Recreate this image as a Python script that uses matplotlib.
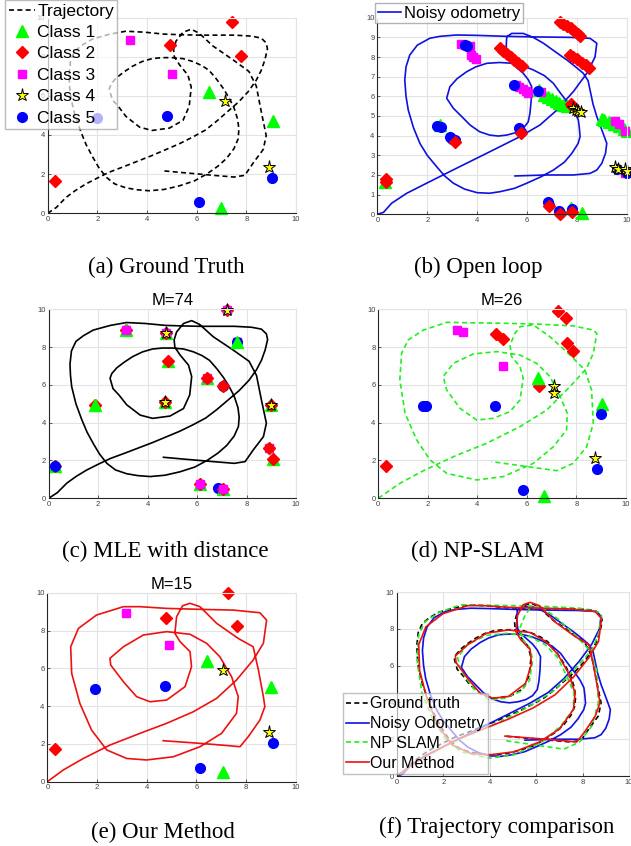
import numpy as np
import matplotlib
matplotlib.use("Agg")
import matplotlib.pyplot as plt
from matplotlib.lines import Line2D

plt.rcParams['font.family'] = ['Liberation Sans', 'DejaVu Sans']

# ground truth trajectory (x, y)
gt_x = [0, 0.35, 0.73, 1.1, 1.54, 2.0, 2.48, 3.1, 3.7, 4.2, 4.77, 5.3, 5.85, 6.35, 6.8, 7.25, 7.7, 8.1, 8.4, 8.6,
        8.75, 8.85, 8.8, 8.6, 8.2, 7.5, 6.8, 6.1, 5.4, 4.7, 3.9, 3.15, 2.5, 1.8, 1.4, 1.1, 0.92, 0.86, 0.88, 0.93,
        1.1, 1.34, 1.55, 1.8, 2.05, 2.35, 2.7, 3.15, 3.6, 4.1, 4.7, 5.3, 5.9, 6.4, 6.85, 7.2, 7.5, 7.67, 7.7, 7.65,
        7.5, 7.3, 7.06, 6.8, 6.5, 6.2, 5.85, 5.45, 5.0, 4.6, 4.2, 3.8, 3.4, 3.05, 2.75, 2.55, 2.48, 2.6, 2.85, 3.15,
        3.7, 4.2, 4.9, 5.45, 5.7, 5.78, 5.65, 5.3, 5.1, 5.07, 5.17, 5.45, 5.78, 6.1, 6.65, 7.45, 8.1, 8.4, 8.6, 8.8,
        8.68, 8.27, 7.94, 7.5, 6.66, 5.58, 4.64]
gt_y = [0, 0.3, 0.8, 1.15, 1.5, 1.8, 2.1, 2.4, 2.7, 2.95, 3.26, 3.55, 3.9, 4.25, 4.7, 5.2, 5.7, 6.25, 6.8, 7.3,
        7.85, 8.4, 8.7, 8.95, 9.05, 9.1, 9.1, 9.1, 9.12, 9.15, 9.25, 9.3, 9.15, 8.9, 8.6, 8.3, 7.8, 7.1, 6.5, 5.9,
        5.0, 4.15, 3.5, 2.9, 2.35, 1.85, 1.5, 1.3, 1.2, 1.15, 1.22, 1.4, 1.65, 2.0, 2.4, 2.8, 3.3, 3.8, 4.3, 4.8,
        5.4, 5.9, 6.4, 6.85, 7.3, 7.55, 7.75, 7.9, 7.95, 7.95, 7.9, 7.75, 7.5, 7.2, 6.9, 6.6, 6.35, 5.8, 5.45, 4.95,
        4.4, 4.23, 4.35, 4.75, 5.47, 6.44, 7.05, 7.6, 8.0, 8.38, 8.8, 9.25, 9.4, 9.2, 8.55, 7.85, 7.25, 6.5, 5.2, 3.97,
        3.26, 2.56, 1.94, 1.85, 1.94, 2.06, 2.17]

# noisy odometry
od_x = [0, 0.25, 0.57, 1.18, 2.1, 3.3, 4.65, 5.72, 6.52, 7.2, 7.86, 8.4, 8.73, 8.8, 8.53, 7.7, 6.4, 5.2, 4.0, 3.18,
        2.5, 2.1, 1.6, 1.3, 1.15, 1.1, 1.15, 1.24, 1.45, 1.71, 2.0, 2.38, 2.7, 3.05, 3.5, 4.0, 4.5, 4.92, 5.5, 5.99,
        6.55, 7.06, 7.5, 7.8, 8.05, 8.13, 8.1, 8.06, 7.9, 7.66, 7.35, 7.06, 6.7, 6.26, 5.85, 5.45, 4.9, 4.39, 3.95, 3.58,
        3.2, 2.91, 2.78, 3.05, 3.4, 3.72, 4.1, 4.5, 4.85, 5.19, 5.55, 5.85, 6.05, 6.12, 6.17, 6.19, 6.05, 5.85, 5.6, 5.39,
        5.22, 5.19, 5.17, 5.19, 5.39, 5.85, 6.25, 6.66, 7.1, 7.6, 7.95, 8.26, 8.45, 8.53, 8.65, 8.8, 9.0, 9.2, 9.15, 9.0,
        8.8, 8.53, 7.86, 6.79, 5.52]
od_y = [0, 0.1, 0.56, 1.07, 1.66, 2.42, 3.27, 3.95, 4.54, 5.3, 6.24, 7.17, 8.0, 8.7, 8.95, 9.0, 9.02, 9.05, 9.1, 9.12,
        9.05, 8.95, 8.6, 8.1, 7.5, 6.83, 6.0, 5.3, 4.4, 3.6, 3.0, 2.42, 1.95, 1.58, 1.28, 1.1, 1.07, 1.15, 1.32, 1.58,
        1.9, 2.25, 2.65, 3.1, 3.6, 3.95, 4.4, 4.8, 5.2, 5.64, 6.15, 6.66, 7.05, 7.34, 7.55, 7.68, 7.72, 7.68, 7.5, 7.25,
        6.9, 6.49, 5.9, 5.39, 4.95, 4.54, 4.2, 4.03, 3.98, 4.03, 4.15, 4.37, 4.7, 5.14, 5.8, 6.49, 6.85, 7.17, 7.45, 7.68,
        7.95, 8.19, 8.6, 9.03, 9.2, 9.2, 9.0, 8.7, 8.3, 7.85, 7.5, 7.17, 6.8, 6.32, 5.6, 4.97, 4.3, 3.61, 3.1, 2.59,
        2.25, 2.08, 2.0, 2.0, 1.95]

# NP-SLAM trajectory
np_x = [0, 0.87, 1.82, 3.03, 4.37, 5.72, 6.8, 7.74, 8.41, 8.68, 8.82, 8.68, 7.87, 6.39, 5.05, 3.57, 2.76, 1.82, 1.21,
        0.94, 0.87, 1.08, 1.55, 2.09, 2.76, 3.97, 5.05, 6.26, 7.07, 7.6, 7.63, 7.34, 6.93, 6.39, 5.72, 4.78, 3.84, 3.03,
        2.62, 2.76, 3.3, 3.97, 4.64, 5.32, 5.72, 5.85, 5.72, 5.38, 5.32, 5.52, 5.72, 6.26, 6.93, 7.74, 8.34, 8.61, 8.68,
        8.41, 7.87, 7.2, 5.99, 4.58]
np_y = [0, 0.79, 1.46, 2.2, 2.91, 3.79, 4.67, 5.91, 6.88, 7.67, 8.73, 8.9, 9.12, 9.22, 9.26, 9.29, 9.31, 8.9, 8.38,
        7.67, 6.26, 4.5, 3.09, 2.03, 1.32, 0.97, 1.15, 1.85, 2.73, 3.62, 4.5, 5.38, 6.44, 7.14, 7.58, 7.76, 7.64, 7.14,
        6.44, 5.73, 4.76, 4.14, 4.23, 4.59, 5.2, 6.35, 6.97, 7.5, 8.11, 8.73, 9.08, 9.17, 8.55, 7.58, 6.79, 5.73, 3.97,
        2.73, 1.85, 1.46, 1.68, 1.94]

# our method trajectory
om_x = [0.04, 0.64, 1.45, 2.52, 3.73, 4.8, 5.87, 6.81, 7.61, 8.28, 8.69, 8.82, 8.55, 7.48, 6.14, 4.8, 3.73, 3.06,
        1.98, 1.25, 0.94, 0.98, 1.31, 1.78, 2.39, 3.19, 3.99, 5.07, 6.14, 7.01, 7.61, 7.68, 7.41, 6.94, 6.41, 5.74, 4.8,
        3.86, 3.06, 2.52, 2.55, 3.06, 3.59, 4.13, 4.8, 5.54, 5.8, 5.74, 5.34, 5.13, 5.2, 5.44, 5.74, 6.14, 6.81, 7.68,
        8.28, 8.49, 8.69, 8.75, 8.55, 8.08, 7.75, 7.35, 6.14, 4.66]
om_y = [0.04, 0.62, 1.23, 1.94, 2.56, 3.09, 3.7, 4.41, 5.38, 6.44, 7.32, 8.55, 8.94, 9.08, 9.12, 9.17, 9.26, 9.26,
        8.82, 8.11, 7.14, 5.73, 4.14, 2.73, 1.68, 1.23, 1.15, 1.32, 1.85, 2.56, 3.62, 4.5, 5.56, 6.61, 7.32, 7.8, 7.94,
        7.76, 7.14, 6.53, 6.17, 5.29, 4.5, 4.23, 4.32, 5.03, 6.08, 6.88, 7.41, 7.85, 8.73, 9.31, 9.44, 9.26, 8.38, 7.58,
        7.14, 5.91, 4.5, 3.97, 3.26, 2.38, 1.85, 1.9, 2.03, 2.17]

# ground truth landmarks per class
gt_lm = {
    1: ([6.5, 9.06, 6.98], [6.2, 4.73, 0.29]),
    2: ([7.44, 4.93, 7.79, 0.3], [9.79, 8.6, 8.03, 1.65]),
    3: ([3.32, 5.0], [8.85, 7.11]),
    4: ([7.14, 8.93], [5.75, 2.38]),
    5: ([4.79, 1.97, 9.05, 6.09], [4.98, 4.85, 1.79, 0.56]),
}

# open loop landmark observations per class
ol_lm = {
    1: ([6.5, 6.7, 6.85, 7.0, 7.15, 7.3, 7.45, 7.6, 9.0, 9.1, 9.3, 9.5, 9.7, 9.9, 10.0, 0.3, 7.78, 8.2, 2.5],
        [6.3, 6.05, 5.95, 5.85, 5.75, 5.65, 5.55, 5.5, 4.85, 4.8, 4.7, 4.6, 4.5, 4.35, 4.25, 1.65, 0.3, 0.05, 4.55]),
    3: ([3.35, 3.5, 3.7, 3.75, 3.85, 3.95, 5.55, 5.7, 5.85, 5.95, 6.05, 6.55, 9.55, 9.7, 9.95, 9.95],
        [8.65, 8.62, 8.55, 8.1, 7.98, 7.88, 6.6, 6.48, 6.35, 6.25, 6.15, 6.2, 4.75, 4.6, 4.25, 2.1]),
    2: ([7.33, 7.45, 7.6, 7.75, 7.9, 8.05, 8.13, 4.92, 5.05, 5.2, 5.35, 5.5, 5.65, 5.8, 7.73, 7.85, 8.0, 8.2,
         8.35, 8.5, 7.8, 7.75, 0.33, 0.33, 3.1, 5.75, 6.9, 7.33, 7.8],
        [9.8, 9.7, 9.6, 9.45, 9.3, 9.15, 9.07, 8.44, 8.3, 8.15, 8.0, 7.85, 7.7, 7.55, 8.1, 8.0, 7.88, 7.7,
         7.58, 7.45, 5.5, 5.6, 1.78, 1.65, 3.7, 4.15, 0.42, 0.03, 0.1]),
    5: ([3.5, 3.6, 5.5, 2.4, 2.55, 2.9, 3.0, 3.1, 5.7, 5.75, 6.85, 6.88, 7.3, 7.33, 7.8, 9.6, 10.0, 6.45],
        [8.6, 8.58, 6.6, 4.5, 4.45, 3.95, 3.85, 3.78, 4.37, 4.2, 0.6, 0.45, 0.15, 0.05, 0.25, 2.3, 2.1, 6.25]),
    4: ([7.85, 7.95, 8.05, 8.15, 9.55, 9.65, 9.95, 10.0], [5.4, 5.3, 5.25, 5.2, 2.42, 2.32, 2.3, 2.2]),
}

# MLE landmarks: position and stacked class labels
mle_x = [7.22, 3.11, 4.73, 7.6, 4.84, 6.39, 7.03, 4.7, 1.86, 8.98, 8.92, 9.06, 0.26, 6.12, 6.86, 7.03]
mle_y = [9.96, 8.9, 8.73, 8.29, 7.27, 6.35, 5.94, 5.11, 4.94, 4.94, 2.65, 2.06, 1.73, 0.76, 0.53, 0.48]
mle_stack = ["234", "213", "1234", "351", "12", "132", "52", "124", "21", "124", "32", "12", "125", "123", "5", "123"]

# NP-SLAM landmarks
np_lm = {
    2: ([7.24, 7.58, 4.75, 5.02, 7.6, 7.85, 6.5, 0.3], [9.93, 9.56, 8.69, 8.43, 8.24, 7.81, 5.96, 1.73]),
    3: ([3.16, 3.43, 5.02], [8.9, 8.82, 7.0]),
    1: ([6.43, 9.02, 6.7], [6.38, 4.97, 0.12]),
    4: ([7.1, 7.1, 8.75], [5.94, 5.56, 2.15]),
    5: ([1.82, 1.92, 4.71, 8.99, 8.84, 5.83], [4.9, 4.9, 4.9, 4.44, 1.55, 0.44]),
}

# our method landmarks
om_lm = {
    2: ([7.25, 4.76, 7.64, 0.31], [9.96, 8.68, 8.24, 1.71]),
    3: ([3.16, 4.88], [8.91, 7.23]),
    1: ([6.43, 8.99, 7.05], [6.4, 4.99, 0.53]),
    4: ([7.05, 8.93], [5.91, 2.61]),
    5: ([1.92, 4.73, 9.06, 6.14], [4.9, 5.08, 2.06, 0.74]),
}

style = {
    1: dict(marker='^', color='#00ff00', mec='#00ff00', ms=8),
    2: dict(marker='D', color='#ff0000', mec='#ff0000', ms=6.5),
    3: dict(marker='s', color='#ff00ff', mec='#ff00ff', ms=5.5),
    4: dict(marker='*', color='#ffff00', mec='black', ms=9.5, mew=0.7),
    5: dict(marker='o', color='#0000ff', mec='#0000ff', ms=7),
}


def draw_lm(ax, lm):
    for c, (xs, ys) in lm.items():
        ax.plot(xs, ys, ls='none', clip_on=False, **style[c])


def setup(ax, ystep=2):
    ax.set_xlim(0, 10)
    ax.set_ylim(0, 10)
    ax.set_xticks(np.arange(0, 11, 2))
    ax.set_yticks(np.arange(0, 10.01, ystep))
    ax.grid(True, color='#e3e3e3', lw=0.8)
    ax.set_axisbelow(True)
    ax.tick_params(labelsize=5.5, colors='#404040', direction='in', length=2, width=0.6, pad=2)
    for s in ['left', 'bottom']:
        ax.spines[s].set_color('#262626')
        ax.spines[s].set_linewidth(0.8)
    for s in ['top', 'right']:
        ax.spines[s].set_color('#e3e3e3')
        ax.spines[s].set_linewidth(0.8)


fig = plt.figure(figsize=(6.31, 8.46), dpi=100)
ax_a = fig.add_axes([0.0756, 0.7479, 0.3935, 0.2314])
ax_b = fig.add_axes([0.598, 0.7467, 0.3952, 0.2324])
ax_c = fig.add_axes([0.0772, 0.411, 0.392, 0.2234])
ax_d = fig.add_axes([0.5995, 0.411, 0.3926, 0.2234])
ax_e = fig.add_axes([0.075, 0.076, 0.394, 0.2234])
ax_f = fig.add_axes([0.629, 0.0827, 0.3677, 0.2175])

dash = (3, 2)
lw = 1.2

# (a) ground truth
setup(ax_a)
ax_a.plot(gt_x, gt_y, color='black', ls='--', dashes=dash, lw=lw)
draw_lm(ax_a, gt_lm)
handles = [Line2D([], [], color='black', ls='--', dashes=dash, lw=lw)]
for c in range(1, 6):
    handles.append(Line2D([], [], ls='none', **style[c]))
ax_a.legend(handles, ['Trajectory'] + ['Class %d' % c for c in range(1, 6)],
            loc='upper left', bbox_to_anchor=(0.008, 1.0), bbox_transform=fig.transFigure,
            fontsize=12.5, handlelength=1.5, handletextpad=0.15, labelspacing=0.36, borderpad=0.2,
            fancybox=False, edgecolor='#a0a0a0', framealpha=0.7, borderaxespad=0)

# (b) open loop
setup(ax_b, ystep=1)
ax_b.plot(od_x, od_y, color='#1010e0', lw=lw)
for c in [1, 3, 5, 2, 4]:
    xs, ys = ol_lm[c]
    ax_b.plot(xs, ys, ls='none', clip_on=False, **style[c])
ax_b.legend([Line2D([], [], color='#1010e0', lw=lw)], ['Noisy odometry'],
            loc='upper left', bbox_to_anchor=(0.595, 0.996), bbox_transform=fig.transFigure,
            fontsize=12, handlelength=1.4, handletextpad=0.15, borderpad=0.15,
            fancybox=False, edgecolor='#a0a0a0', framealpha=0.8, borderaxespad=0)

# (c) MLE with distance
setup(ax_c)
ax_c.plot(gt_x, gt_y, color='black', lw=lw)
for x, y, st in zip(mle_x, mle_y, mle_stack):
    for ch in st:
        ax_c.plot([x], [y], ls='none', clip_on=False, **style[int(ch)])
ax_c.set_title('M=74', fontsize=12, pad=3)

# (d) NP-SLAM
setup(ax_d)
ax_d.plot(np_x, np_y, color='#22ee22', ls='--', dashes=dash, lw=lw)
draw_lm(ax_d, np_lm)
ax_d.set_title('M=26', fontsize=12, pad=3)

# (e) our method
setup(ax_e)
ax_e.plot(om_x, om_y, color='#ee1111', lw=lw)
draw_lm(ax_e, om_lm)
ax_e.set_title('M=15', fontsize=12, pad=3)

# (f) trajectory comparison
setup(ax_f)
ax_f.plot(gt_x, gt_y, color='black', ls='--', dashes=dash, lw=lw, label='Ground truth')
ax_f.plot(od_x, od_y, color='#1010e0', lw=lw, label='Noisy Odometry')
ax_f.plot(np_x, np_y, color='#22ee22', ls='--', dashes=dash, lw=lw, label='NP SLAM')
ax_f.plot(om_x, om_y, color='#ee1111', lw=lw, label='Our Method')
ax_f.legend(loc='lower left', bbox_to_anchor=(343 / 631, 1 - 774 / 846), bbox_transform=fig.transFigure,
            fontsize=11.5, handlelength=1.4, handletextpad=0.1, labelspacing=0.3, borderpad=0.2,
            fancybox=False, edgecolor='#a0a0a0', framealpha=0.65, borderaxespad=0)

captions = [('(a) Ground Truth', 166, 267), ('(b) Open loop', 478, 267),
            ('(c) MLE with distance', 165, 551), ('(d) NP-SLAM', 478, 551),
            ('(e) Our Method', 163, 832), ('(f) Trajectory comparison', 497, 827)]
for txt, x, y in captions:
    fig.text(x / 631, 1 - y / 846, txt, ha='center', va='center', fontsize=16.5, family='Liberation Serif')

fig.savefig('out.png', dpi=100)
